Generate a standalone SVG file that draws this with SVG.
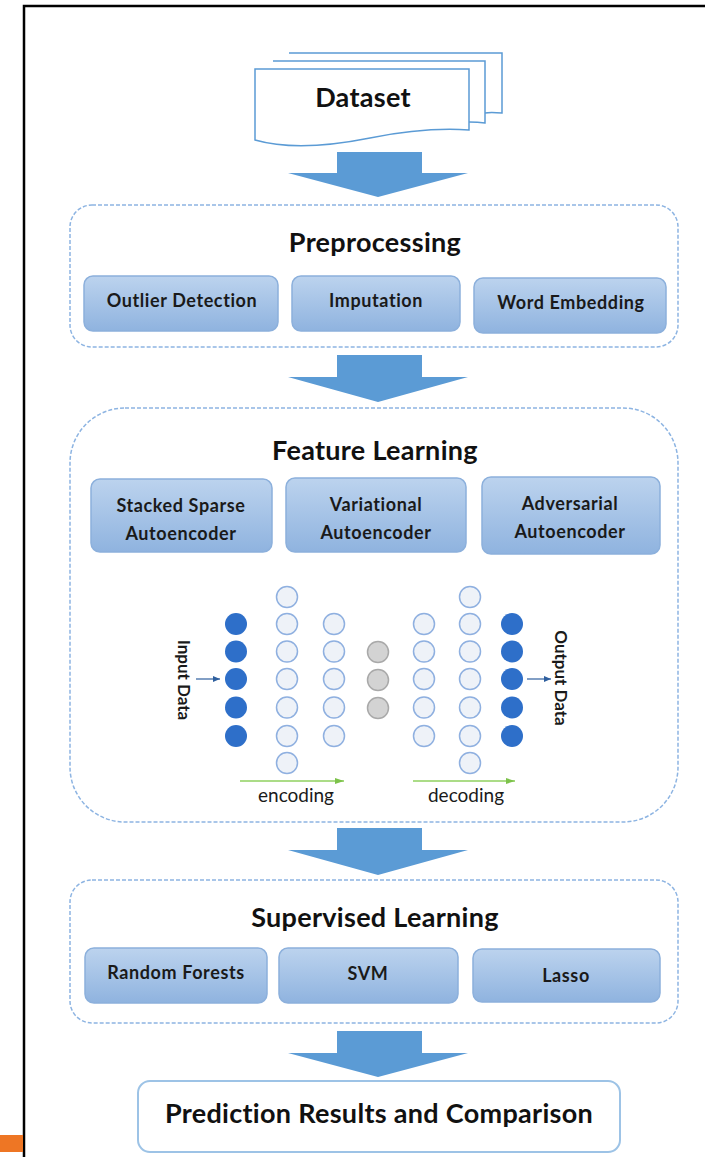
<svg xmlns="http://www.w3.org/2000/svg" width="705" height="1157" viewBox="0 0 705 1157">
<defs>
<linearGradient id="boxg" x1="0" y1="0" x2="0" y2="1">
<stop offset="0" stop-color="#bcd3ee"/>
<stop offset="1" stop-color="#8fb3df"/>
</linearGradient>
<style>
.bg{fill:#ffffff}
.frame{fill:none;stroke:#000;stroke-width:2.5}
.doc{fill:#fff;stroke:#5b9bd5;stroke-width:1.5}
.cont{fill:#fff;stroke:#8db4e2;stroke-width:1.5;stroke-dasharray:4 2}
.box{fill:url(#boxg);stroke:#8cb0dc;stroke-width:1.5}
.bigarrow{fill:#5b9bd5}
.title{font-family:Lato,"Liberation Sans",sans-serif;font-weight:bold;font-size:27px;letter-spacing:0.3px;fill:#111;text-anchor:middle}
.lbl{font-family:Lato,"Liberation Sans",sans-serif;font-weight:bold;font-size:18px;letter-spacing:0.6px;fill:#1a1a1a;text-anchor:middle}
.small{font-family:Lato,"Liberation Sans",sans-serif;font-weight:bold;font-size:17px;fill:#1a1a1a;text-anchor:middle}
.code{font-family:Lato,"Liberation Sans",sans-serif;font-size:19px;fill:#1a1a1a;text-anchor:middle}
.open{fill:#eef2f8;stroke:#8fb0e0;stroke-width:1.5}
.fill{fill:#2e6fc9}
.gray{fill:#d3d3d3;stroke:#a9a9a9;stroke-width:1.5}
.res{fill:#fff;stroke:#9dc3e6;stroke-width:2}
</style>
<marker id="bluehead" markerWidth="8" markerHeight="8" refX="7" refY="4" orient="auto" markerUnits="userSpaceOnUse">
<path d="M0,1 L7,4 L0,7 Z" fill="#2e5f9e"/>
</marker>
<marker id="greenhead" markerWidth="10" markerHeight="8" refX="9" refY="4" orient="auto" markerUnits="userSpaceOnUse">
<path d="M0,1 L9,4 L0,7 Z" fill="#7dc24b"/>
</marker>
</defs>
<rect class="bg" x="0" y="0" width="705" height="1157"/>
<path class="frame" d="M24,1157 V6 H705"/>
<rect x="0" y="1135" width="23" height="17" fill="#ee7624"/>

<g id="connectors">
<path class="bigarrow" d="M337,152 H422 V173 H468 L378,197 L288,173 H337 Z"/>
<path class="bigarrow" d="M337,355 H422 V377 H468 L378,402 L288,377 H337 Z"/>
<path class="bigarrow" d="M337,828 H422 V850 H468 L378,875 L288,850 H337 Z"/>
<path class="bigarrow" d="M337,1031 H422 V1053 H468 L378,1077 L288,1053 H337 Z"/>
</g>

<g id="dataset">
<path class="doc" d="M289,53 H502 V113 C490,112 485,113 485,113"/>
<path class="doc" d="M273,61 H485 V123 C478,122 472,122 469,122"/>
<path class="doc" d="M255,69 H469 V130 C440,128 410,130 370,138 C330,146 290,150 255,140 Z"/>
<text class="title" x="363" y="107">Dataset</text>
</g>

<g id="preprocessing">
<rect class="cont" x="70" y="205" width="608" height="142" rx="22"/>
<text class="title" x="375" y="252">Preprocessing</text>
</g>
<g id="outlier-detection">
<rect class="box" x="84" y="276" width="194" height="55" rx="9"/>
<text class="lbl" x="182" y="307">Outlier Detection</text>
</g>
<g id="imputation">
<rect class="box" x="292" y="276" width="168" height="55" rx="9"/>
<text class="lbl" x="376" y="307">Imputation</text>
</g>
<g id="word-embedding">
<rect class="box" x="474" y="278" width="192" height="55" rx="9"/>
<text class="lbl" x="571" y="309">Word Embedding</text>
</g>

<g id="feature-learning">
<rect class="cont" x="70" y="408" width="608" height="414" rx="55"/>
<text class="title" x="375" y="460">Feature Learning</text>
</g>
<g id="stacked-sparse-autoencoder">
<rect class="box" x="91" y="479" width="181" height="73" rx="9"/>
<text class="lbl" x="181" y="512">Stacked Sparse</text>
<text class="lbl" x="181" y="540">Autoencoder</text>
</g>
<g id="variational-autoencoder">
<rect class="box" x="286" y="478" width="180" height="74" rx="9"/>
<text class="lbl" x="376" y="511">Variational</text>
<text class="lbl" x="376" y="539">Autoencoder</text>
</g>
<g id="adversarial-autoencoder">
<rect class="box" x="482" y="477" width="178" height="77" rx="9"/>
<text class="lbl" x="570" y="510">Adversarial</text>
<text class="lbl" x="570" y="538">Autoencoder</text>
</g>

<g id="autoencoder-network">
<circle class="fill" cx="236" cy="624" r="11"/>
<circle class="fill" cx="236" cy="651.5" r="11"/>
<circle class="fill" cx="236" cy="679" r="11"/>
<circle class="fill" cx="236" cy="707.5" r="11"/>
<circle class="fill" cx="236" cy="736" r="11"/>
<circle class="open" cx="287" cy="597" r="10.5"/>
<circle class="open" cx="287" cy="624" r="10.5"/>
<circle class="open" cx="287" cy="651.5" r="10.5"/>
<circle class="open" cx="287" cy="679" r="10.5"/>
<circle class="open" cx="287" cy="707.5" r="10.5"/>
<circle class="open" cx="287" cy="736" r="10.5"/>
<circle class="open" cx="287" cy="763" r="10.5"/>
<circle class="open" cx="334" cy="624" r="10.5"/>
<circle class="open" cx="334" cy="651.5" r="10.5"/>
<circle class="open" cx="334" cy="679" r="10.5"/>
<circle class="open" cx="334" cy="707.5" r="10.5"/>
<circle class="open" cx="334" cy="736" r="10.5"/>
<circle class="gray" cx="378" cy="652" r="10.5"/>
<circle class="gray" cx="378" cy="680" r="10.5"/>
<circle class="gray" cx="378" cy="708" r="10.5"/>
<circle class="open" cx="424" cy="624" r="10.5"/>
<circle class="open" cx="424" cy="651.5" r="10.5"/>
<circle class="open" cx="424" cy="679" r="10.5"/>
<circle class="open" cx="424" cy="707.5" r="10.5"/>
<circle class="open" cx="424" cy="736" r="10.5"/>
<circle class="open" cx="470" cy="597" r="10.5"/>
<circle class="open" cx="470" cy="624" r="10.5"/>
<circle class="open" cx="470" cy="651.5" r="10.5"/>
<circle class="open" cx="470" cy="679" r="10.5"/>
<circle class="open" cx="470" cy="707.5" r="10.5"/>
<circle class="open" cx="470" cy="736" r="10.5"/>
<circle class="open" cx="470" cy="763" r="10.5"/>
<circle class="fill" cx="512" cy="624" r="11"/>
<circle class="fill" cx="512" cy="651.5" r="11"/>
<circle class="fill" cx="512" cy="679" r="11"/>
<circle class="fill" cx="512" cy="707.5" r="11"/>
<circle class="fill" cx="512" cy="736" r="11"/>
<line x1="196" y1="679" x2="220" y2="679" stroke="#2e5f9e" stroke-width="1.2" marker-end="url(#bluehead)"/>
<line x1="527" y1="679" x2="551" y2="679" stroke="#2e5f9e" stroke-width="1.2" marker-end="url(#bluehead)"/>
<line x1="240" y1="781" x2="344" y2="781" stroke="#8fd05f" stroke-width="1.5" marker-end="url(#greenhead)"/>
<line x1="413" y1="781" x2="515" y2="781" stroke="#8fd05f" stroke-width="1.5" marker-end="url(#greenhead)"/>
<text class="small" transform="translate(178,680) rotate(90)">Input Data</text>
<text class="small" transform="translate(555,678) rotate(90)">Output Data</text>
<text class="code" x="296" y="802">encoding</text>
<text class="code" x="466" y="802">decoding</text>
</g>

<g id="supervised-learning">
<rect class="cont" x="70" y="880" width="608" height="143" rx="22"/>
<text class="title" x="375" y="927">Supervised Learning</text>
</g>
<g id="random-forests">
<rect class="box" x="85" y="948" width="182" height="55" rx="9"/>
<text class="lbl" x="176" y="979">Random Forests</text>
</g>
<g id="svm">
<rect class="box" x="279" y="948" width="179" height="55" rx="9"/>
<text class="lbl" x="368" y="980">SVM</text>
</g>
<g id="lasso">
<rect class="box" x="473" y="949" width="187" height="53" rx="9"/>
<text class="lbl" x="566" y="982">Lasso</text>
</g>

<g id="prediction-results">
<rect class="res" x="138" y="1081" width="482" height="71" rx="12"/>
<text class="title" x="379" y="1123">Prediction Results and Comparison</text>
</g>
</svg>
